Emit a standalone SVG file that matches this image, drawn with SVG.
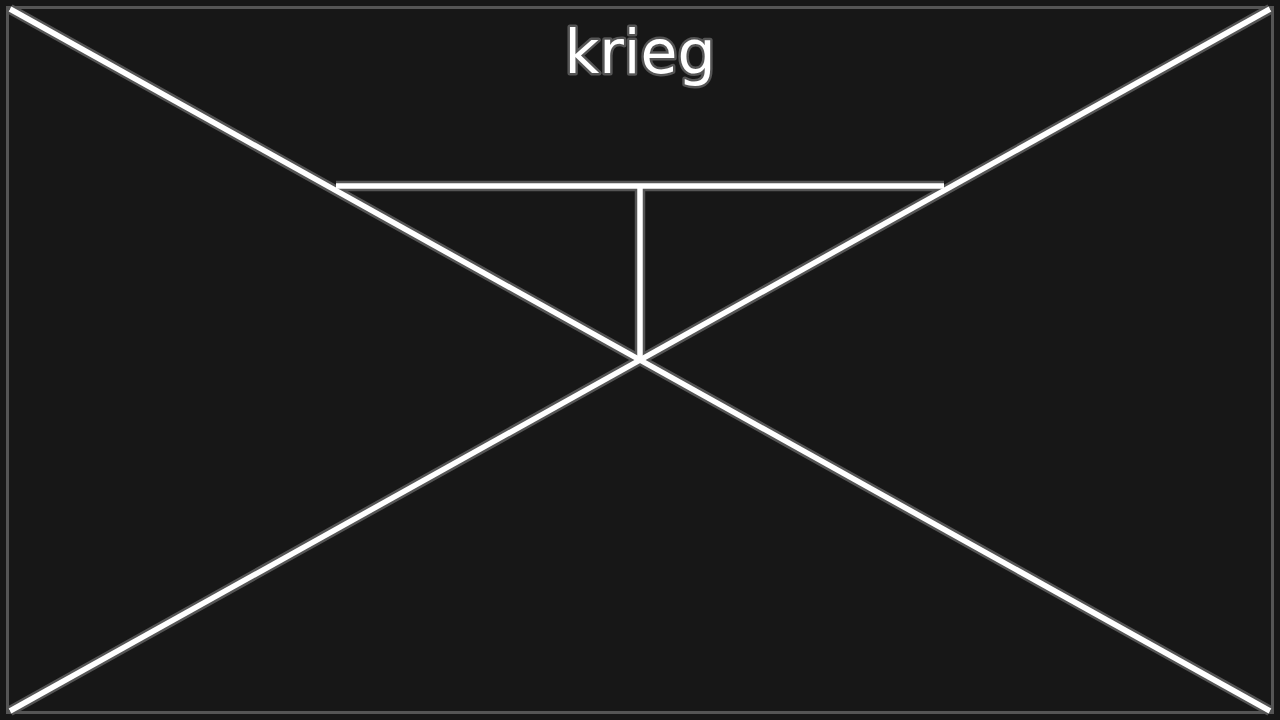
<svg xmlns="http://www.w3.org/2000/svg" width="1280" height="720" viewBox="0 0 1280 720">
<style>
.halo{stroke:#555555;stroke-width:10.5;fill:none;stroke-linecap:butt}
.core{stroke:#ffffff;stroke-width:5.5;fill:none;stroke-linecap:butt}
.title{font-family:"DejaVu Sans",sans-serif;font-size:60px;fill:#ffffff;stroke:#555555;stroke-width:5;paint-order:stroke;stroke-linejoin:round;text-anchor:middle}
</style>
<rect x="0" y="0" width="1280" height="720" fill="#171717"/>
<g id="frame"><rect x="7.5" y="7.5" width="1265" height="705" fill="#171717" stroke="#555555" stroke-width="3"/></g>
<g id="connectors">
<g class="halo">
<line x1="10" y1="9" x2="1270" y2="711"/>
<line x1="1270" y1="9" x2="10" y2="711"/>
<line x1="336" y1="186" x2="944" y2="186"/>
<line x1="640" y1="186" x2="640" y2="357"/>
</g>
<g class="core">
<line x1="10" y1="9" x2="1270" y2="711"/>
<line x1="1270" y1="9" x2="10" y2="711"/>
<line x1="336" y1="186" x2="944" y2="186"/>
<line x1="640" y1="186" x2="640" y2="357"/>
</g>
</g>
<g id="label"><text class="title" x="640" y="73">krieg</text></g>
</svg>
